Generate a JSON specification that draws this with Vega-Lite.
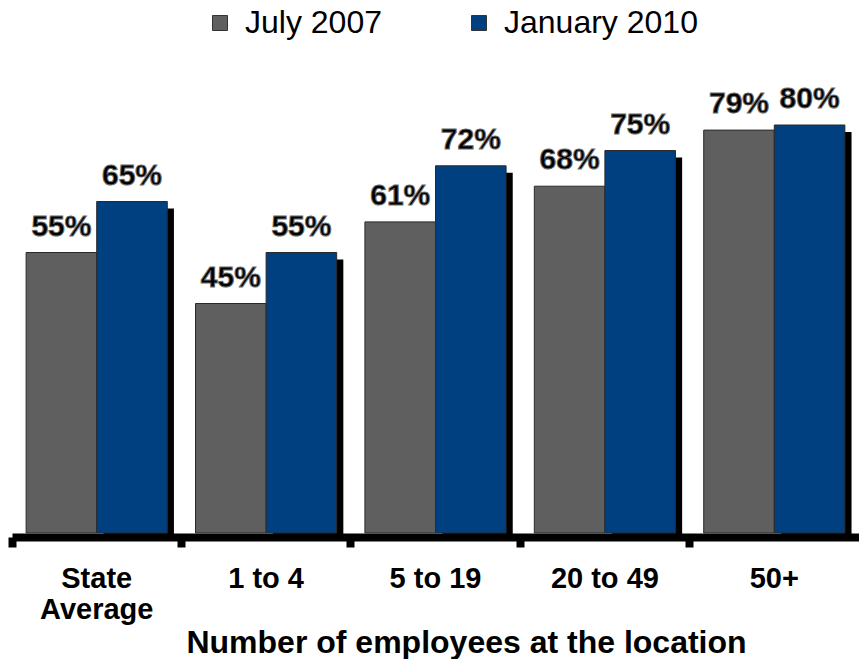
{
  "$schema": "https://vega.github.io/schema/vega-lite/v6.json",
  "width": 847,
  "height": 510,
  "autosize": {"type": "none"},
  "padding": {"left": 12, "top": 23, "right": 0, "bottom": 126},
  "background": "white",
  "config": {
    "view": {"stroke": null},
    "font": "Liberation Sans"
  },
  "data": {
    "values": [
      {"group": "State Average", "series": "July 2007", "value": 55},
      {"group": "State Average", "series": "January 2010", "value": 65},
      {"group": "1 to 4", "series": "July 2007", "value": 45},
      {"group": "1 to 4", "series": "January 2010", "value": 55},
      {"group": "5 to 19", "series": "July 2007", "value": 61},
      {"group": "5 to 19", "series": "January 2010", "value": 72},
      {"group": "20 to 49", "series": "July 2007", "value": 68},
      {"group": "20 to 49", "series": "January 2010", "value": 75},
      {"group": "50+", "series": "July 2007", "value": 79},
      {"group": "50+", "series": "January 2010", "value": 80}
    ]
  },
  "transform": [{"calculate": "datum.value + '%'", "as": "label"}],
  "encoding": {
    "x": {
      "field": "group",
      "type": "nominal",
      "sort": ["State Average", "1 to 4", "5 to 19", "20 to 49", "50+"],
      "scale": {"paddingInner": 0, "paddingOuter": 0},
      "axis": {
        "title": "Number of employees at the location",
        "titleFontSize": 32,
        "titleFontWeight": "bold",
        "titleColor": "black",
        "titleX": 454,
        "titleY": 115,
        "titleBaseline": "alphabetic",
        "labelAngle": 0,
        "labelFontSize": 29,
        "labelFontWeight": "bold",
        "labelColor": "black",
        "labelPadding": 17,
        "labelLineHeight": 31,
        "labelExpr": "datum.label == 'State Average' ? ['State', 'Average'] : datum.label",
        "bandPosition": 0,
        "domainColor": "black",
        "domainWidth": 8,
        "tickColor": "black",
        "tickWidth": 8,
        "tickSize": 10,
        "offset": 4
      }
    },
    "y": {
      "field": "value",
      "type": "quantitative",
      "scale": {"domain": [0, 100]},
      "axis": null
    }
  },
  "layer": [
    {
      "transform": [{"filter": "datum.series == 'January 2010'"}],
      "mark": {"type": "bar", "color": "black", "width": {"band": 0.416}, "xOffset": 42, "yOffset": 7}
    },
    {
      "mark": {"type": "bar", "stroke": "#2a2a2a", "strokeWidth": 1},
      "encoding": {
        "xOffset": {
          "field": "series",
          "type": "nominal",
          "sort": ["July 2007", "January 2010"],
          "scale": {"paddingOuter": 0.2, "paddingInner": 0}
        },
        "color": {
          "field": "series",
          "type": "nominal",
          "sort": ["July 2007", "January 2010"],
          "scale": {"domain": ["July 2007", "January 2010"], "range": ["#5f5f5f", "#003f80"]},
          "legend": {
            "title": null,
            "orient": "none",
            "direction": "horizontal",
            "legendX": 192,
            "legendY": -16,
            "symbolType": "square",
            "symbolSize": 225,
            "symbolStrokeColor": "#333333",
            "symbolStrokeWidth": 1,
            "symbolOpacity": 1,
            "labelFontSize": 32,
            "labelColor": "black",
            "labelOffset": 9,
            "labelLimit": 0,
            "columnPadding": 81,
            "padding": 0
          }
        }
      }
    },
    {
      "mark": {"type": "text", "fontSize": 30, "fontWeight": "bold", "color": "black", "stroke": "#6a6a6a", "strokeWidth": 1, "baseline": "alphabetic", "dy": -17},
      "encoding": {
        "xOffset": {
          "field": "series",
          "type": "nominal",
          "sort": ["July 2007", "January 2010"],
          "scale": {"paddingOuter": 0.2, "paddingInner": 0}
        },
        "text": {"field": "label", "type": "nominal"}
      }
    }
  ]
}
